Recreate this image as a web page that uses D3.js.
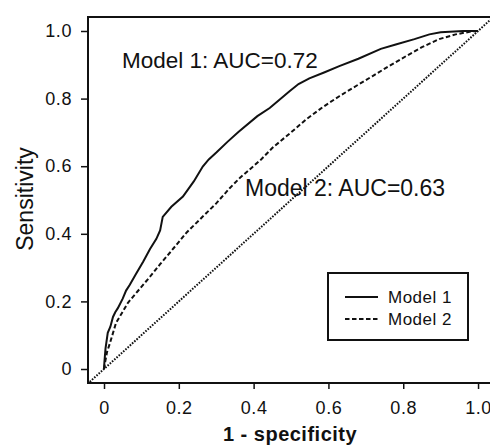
<!DOCTYPE html>
<html>
<head>
<meta charset="utf-8">
<script src="https://cdn.jsdelivr.net/npm/d3@7"></script>
<style>
  body { margin: 0; background: #fff; }
  text { font-family: "Liberation Sans", Arial, sans-serif; fill: #111; }
</style>
</head>
<body>
<div id="chart"></div>
<script>
// Chart size
const WIDTH = 490;
const HEIGHT = 446;
const MARGIN = {top: 17, right: -6, bottom: 63, left: 88};
const INNER_W = WIDTH - MARGIN.left - MARGIN.right;
const INNER_H = HEIGHT - MARGIN.top - MARGIN.bottom;

// Data: [1 - specificity, sensitivity]
const model1 = [
  [0, 0], [0.001, 0.02], [0.004, 0.06], [0.01, 0.107], [0.017, 0.125], [0.024, 0.154],
  [0.03, 0.168], [0.037, 0.18], [0.05, 0.208], [0.059, 0.232], [0.069, 0.249], [0.085, 0.28],
  [0.105, 0.318], [0.123, 0.355], [0.14, 0.385], [0.15, 0.41], [0.157, 0.45], [0.18, 0.48],
  [0.211, 0.51], [0.24, 0.555], [0.264, 0.599], [0.28, 0.62], [0.301, 0.641], [0.33, 0.672],
  [0.36, 0.702], [0.41, 0.748], [0.443, 0.772], [0.496, 0.822], [0.52, 0.843], [0.549, 0.86],
  [0.59, 0.878], [0.629, 0.896], [0.68, 0.918], [0.74, 0.947], [0.78, 0.96], [0.83, 0.976],
  [0.87, 0.99], [0.9, 0.996], [0.96, 1.0], [1, 1]
];
const model2 = [
  [0, 0], [0.003, 0.02], [0.008, 0.05], [0.016, 0.077], [0.032, 0.136], [0.064, 0.196],
  [0.09, 0.23], [0.123, 0.273], [0.15, 0.31], [0.176, 0.344], [0.221, 0.404], [0.264, 0.451],
  [0.3, 0.49], [0.336, 0.535], [0.363, 0.565], [0.389, 0.59], [0.42, 0.62], [0.451, 0.655],
  [0.5, 0.7], [0.541, 0.739], [0.585, 0.775], [0.629, 0.807], [0.675, 0.838], [0.717, 0.866],
  [0.76, 0.895], [0.808, 0.926], [0.85, 0.952], [0.896, 0.976], [0.94, 0.99], [0.984, 0.999],
  [1, 1]
];
const chanceLine = [[-0.05, -0.05], [1.1, 1.1]];

const xTicks = [0, 0.2, 0.4, 0.6, 0.8, 1.0];
const yTicks = [0, 0.2, 0.4, 0.6, 0.8, 1.0];
const tickLabel = d => d === 0 ? "0" : d.toFixed(1);

const seriesNames = ["Model 1", "Model 2"];
const aucLabels = ["Model 1: AUC=0.72", "Model 2: AUC=0.63"];

// Scales (axis box runs a little past 0 and 1)
let x = d3.scaleLinear().domain([-0.0428, 1.048]).range([0, INNER_W]);
let y = d3.scaleLinear().domain([-0.0414, 1.0414]).range([INNER_H, 0]);

let svg = d3.select("#chart")
            .append("svg")
            .attr("width", WIDTH)
            .attr("height", HEIGHT);

let g = svg.append("g")
           .attr("transform", `translate(${MARGIN.left}, ${MARGIN.top})`);

g.append("clipPath").attr("id", "clip")
  .append("rect").attr("width", INNER_W).attr("height", INNER_H);

// Axes
let xAxis = d3.axisBottom(x).tickValues(xTicks).tickFormat(tickLabel).tickSize(6).tickSizeOuter(0);
let yAxis = d3.axisLeft(y).tickValues(yTicks).tickFormat(tickLabel).tickSize(7).tickSizeOuter(0);

let gx = g.append("g").attr("transform", `translate(0, ${INNER_H})`).call(xAxis);
let gy = g.append("g").call(yAxis);
[gx, gy].forEach(a => {
  a.select(".domain").remove();
  a.selectAll("line").attr("stroke", "#111").attr("stroke-width", 1.5);
  a.selectAll("text").attr("font-size", 18).attr("letter-spacing", "0.6px");
});
gx.selectAll("text").attr("y", 18);
gy.selectAll("text").attr("x", -16);

// Frame
g.append("rect")
  .attr("width", INNER_W).attr("height", INNER_H)
  .attr("fill", "none").attr("stroke", "#111").attr("stroke-width", 2);

// Lines
let line = d3.line().x(d => x(d[0])).y(d => y(d[1]));
let curves = g.append("g").attr("clip-path", "url(#clip)");

curves.append("path").datum(chanceLine)
  .attr("d", line).attr("fill", "none").attr("stroke", "#111")
  .attr("stroke-width", 2).attr("stroke-dasharray", "1.6 1.4");

curves.append("path").datum(model2)
  .attr("d", line).attr("fill", "none").attr("stroke", "#111")
  .attr("stroke-width", 2).attr("stroke-dasharray", "4.5 2.5");

curves.append("path").datum(model1)
  .attr("d", line).attr("fill", "none").attr("stroke", "#111")
  .attr("stroke-width", 2);

// AUC annotations
g.append("text").attr("x", 122 - MARGIN.left).attr("y", 68 - MARGIN.top)
  .attr("font-size", 22.5).text(aucLabels[0]);
g.append("text").attr("x", 245 - MARGIN.left).attr("y", 196 - MARGIN.top)
  .attr("font-size", 23).text(aucLabels[1]);

// Legend
let legend = svg.append("g").attr("transform", "translate(328, 273)");
legend.append("rect").attr("width", 140).attr("height", 67)
  .attr("fill", "#fff").attr("stroke", "#111").attr("stroke-width", 2);
seriesNames.forEach((name, i) => {
  let row = legend.append("g").attr("transform", `translate(0, ${24 + i * 22})`);
  row.append("line").attr("x1", 17).attr("x2", 50)
    .attr("stroke", "#111").attr("stroke-width", 2)
    .attr("stroke-dasharray", i === 1 ? "4.5 2.5" : null);
  row.append("text").attr("x", 60).attr("y", 6).attr("font-size", 17)
    .attr("letter-spacing", "0.5px").text(name);
});

// Axis titles
svg.append("text").attr("x", 290).attr("y", 441).attr("text-anchor", "middle")
  .attr("font-size", 20).attr("font-weight", "bold").attr("letter-spacing", "0.5px")
  .text("1 - specificity");
svg.append("text").attr("transform", "translate(33, 199) rotate(-90)")
  .attr("text-anchor", "middle").attr("font-size", 23).text("Sensitivity");
</script>
</body>
</html>
